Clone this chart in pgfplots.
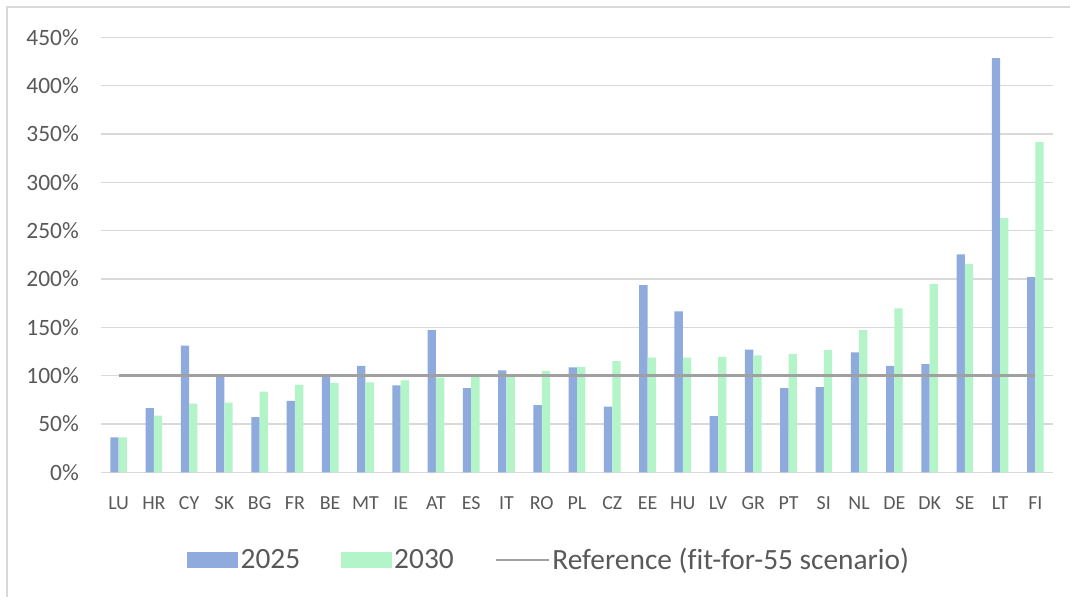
\documentclass[border=0pt]{standalone}
\usepackage{pgfplots}
\pgfplotsset{compat=1.18}
\usepackage{pgfplotstable}
\usepackage{fontspec}
\setmainfont{Carlito}[Ligatures=NoCommon]
\definecolor{cA}{HTML}{8FAADC}
\definecolor{cB}{HTML}{B3F5C9}
\definecolor{cRef}{HTML}{A0A0A0}
\definecolor{cGrid}{HTML}{D9D9D9}
\definecolor{cTxt}{HTML}{595959}

\pgfplotstableread{
x cat y2025 y2030
0 LU 36 36
1 HR 66.5 58.5
2 CY 131 71
3 SK 98.5 72
4 BG 57 83.5
5 FR 74 90.5
6 BE 98.5 92.5
7 MT 110 93
8 IE 90 95
9 AT 147 98
10 ES 87 98.5
11 IT 105.5 101.5
12 RO 69.5 105
13 PL 108.5 109
14 CZ 68 115
15 EE 193.5 118.5
16 HU 166.5 118.5
17 LV 58 119.5
18 GR 127 121
19 PT 87 122.5
20 SI 88 126.5
21 NL 124 147
22 DE 110 169.5
23 DK 112 195
24 SE 225.5 215.5
25 LT 428.5 263
26 FI 202 341.5
}\datatable

\begin{document}
\begin{tikzpicture}[x=1bp,y=1bp]
\useasboundingbox (0,0) rectangle (1070,597);
\draw[cGrid, line width=1.5bp] (7,0) -- (7,590) -- (1070,590);
\begin{axis}[
  at={(101bp,124.7bp)}, anchor=south west,
  scale only axis, width=952bp, height=435bp,
  xmin=-0.5, xmax=26.5, ymin=0, ymax=450,
  enlargelimits=false,
  ybar=0pt, bar width=0.236,
  axis line style={draw=none},
  xtick=data,
  xticklabels={LU,HR,CY,SK,BG,FR,BE,MT,IE,AT,ES,IT,RO,PL,CZ,EE,HU,LV,GR,PT,SI,NL,DE,DK,SE,LT,FI},
  ytick={0,50,...,450},
  yticklabel={\pgfmathprintnumber{\tick}\%},
  /pgf/number format/assume math mode=true,
  major tick length=0pt,
  ymajorgrids, grid style={cGrid, line width=1.3bp},
  tick label style={text=cTxt},
  yticklabel style={font=\fontsize{23.5}{27}\selectfont, inner sep=0pt, anchor=east, xshift=-22bp},
  xticklabel style={font=\fontsize{20}{24}\selectfont, inner sep=0pt, anchor=north, yshift=-24bp},
  legend style={draw=none, fill=none, at={(0.471,-0.2016)}, anchor=center,
    legend columns=3, font=\fontsize{29.5}{33}\selectfont, text=cTxt,
    /tikz/every even column/.append style={column sep=38bp},
    inner sep=0pt, nodes={inner sep=2.5bp}},
]
\addplot[fill=cA, draw=none,
  legend image code/.code={\fill[cA] (0bp,-8.2bp) rectangle (51bp,8.2bp);}]
  table[x=x, y=y2025] {\datatable};
\addlegendentry{2025}
\addplot[fill=cB, draw=none,
  legend image code/.code={\fill[cB] (0bp,-8.2bp) rectangle (51bp,8.2bp);}]
  table[x=x, y=y2030] {\datatable};
\addlegendentry{2030}
\addplot[sharp plot, cRef, line width=2.6bp, mark=none,
  legend image code/.code={\draw[cRef, line width=2.6bp] (0bp,0bp) -- (53bp,0bp);}]
  coordinates {(0,100) (26,100)};
\addlegendentry{Reference (fit-for-55 scenario)}
\end{axis}
\end{tikzpicture}
\end{document}
